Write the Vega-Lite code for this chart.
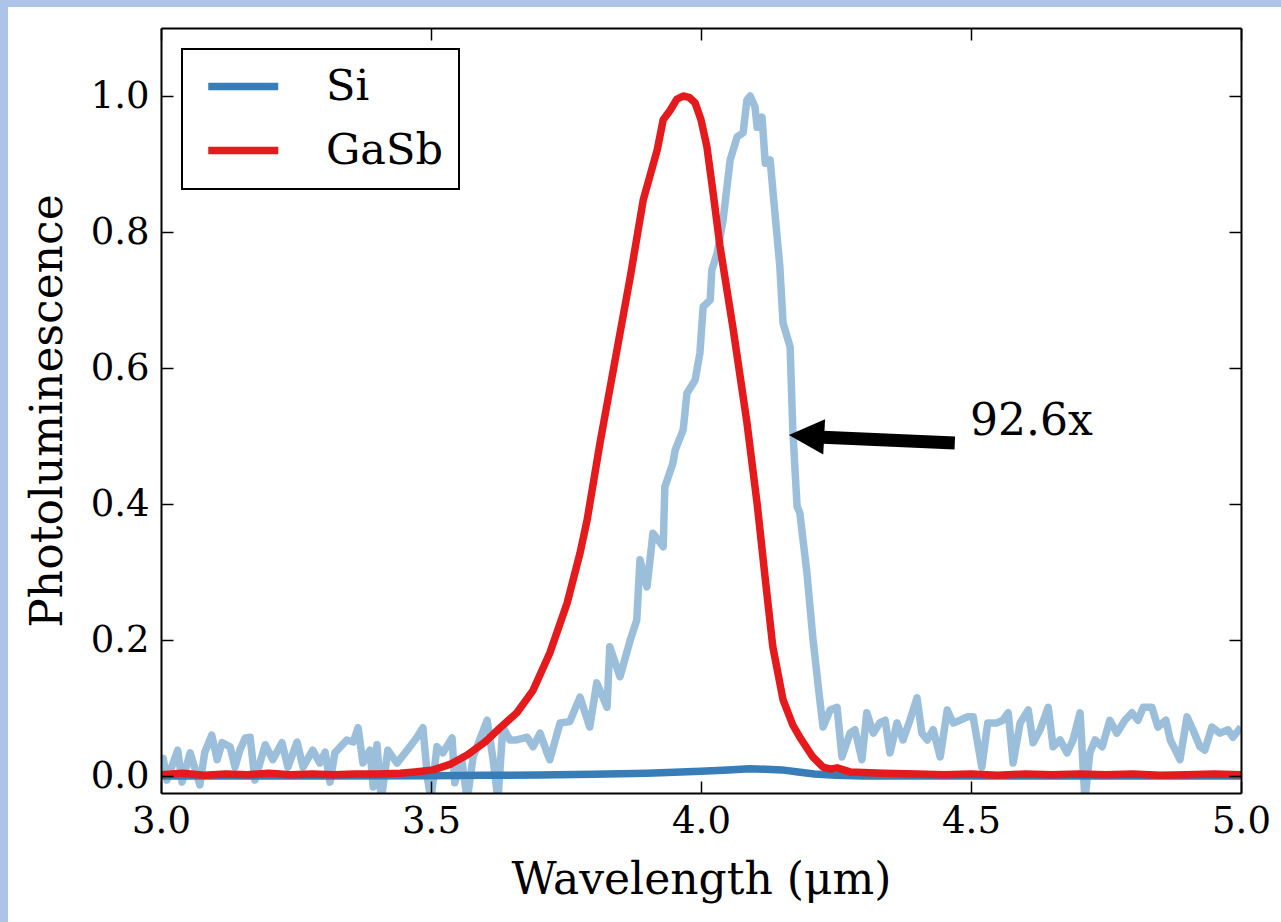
{
  "$schema": "https://vega.github.io/schema/vega-lite/v6.json",
  "width": 1080,
  "height": 765,
  "autosize": "none",
  "padding": {"left": 161, "top": 28, "right": 40, "bottom": 129},
  "background": "#aec3e8",
  "config": {
    "view": {"stroke": null},
    "font": "DejaVu Serif",
    "axis": {
      "zindex": 1, "grid": false,
      "domainColor": "black", "domainWidth": 2,
      "tickColor": "black", "tickWidth": 1.5, "tickSize": -12,
      "labelFont": "DejaVu Serif", "labelFontSize": 37, "labelColor": "black",
      "titleFont": "DejaVu Serif", "titleFontSize": 44, "titleFontWeight": "normal", "titleColor": "black",
      "labelFlush": false, "labelOverlap": false
    },
    "legend": {
      "orient": "top-left", "offset": 21,
      "strokeColor": "black", "strokeWidth": 2, "fillColor": "white", "padding": 16, "cornerRadius": 0,
      "symbolType": "M -0.643 0 L 3.357 0", "symbolSize": 1225, "symbolStrokeWidth": 7.5,
      "labelFont": "DejaVu Serif", "labelFontSize": 43, "labelColor": "black",
      "labelOffset": 85, "rowPadding": 20, "labelLimit": 400
    }
  },
  "datasets": {
    "scaled": [
      {"w":3.000,"pl":0.020},{"w":3.004,"pl":0.026},{"w":3.011,"pl":-0.006},{"w":3.031,"pl":0.038},{"w":3.039,"pl":-0.009},
      {"w":3.054,"pl":0.034},{"w":3.072,"pl":-0.013},{"w":3.081,"pl":0.035},{"w":3.094,"pl":0.060},{"w":3.104,"pl":0.024},
      {"w":3.113,"pl":0.049},{"w":3.128,"pl":0.043},{"w":3.137,"pl":0.013},{"w":3.146,"pl":0.038},{"w":3.156,"pl":0.056},
      {"w":3.165,"pl":0.057},{"w":3.174,"pl":-0.006},{"w":3.193,"pl":0.046},{"w":3.207,"pl":0.024},{"w":3.224,"pl":0.049},
      {"w":3.235,"pl":0.013},{"w":3.252,"pl":0.050},{"w":3.263,"pl":0.013},{"w":3.281,"pl":0.038},{"w":3.294,"pl":0.019},
      {"w":3.304,"pl":0.035},{"w":3.313,"pl":-0.009},{"w":3.322,"pl":0.034},{"w":3.344,"pl":0.053},{"w":3.356,"pl":0.050},
      {"w":3.365,"pl":0.071},{"w":3.374,"pl":0.019},{"w":3.387,"pl":0.038},{"w":3.393,"pl":-0.016},{"w":3.400,"pl":0.046},
      {"w":3.408,"pl":-0.035},{"w":3.420,"pl":0.038},{"w":3.437,"pl":0.019},{"w":3.456,"pl":0.038},{"w":3.474,"pl":0.057},
      {"w":3.485,"pl":0.071},{"w":3.494,"pl":-0.006},{"w":3.500,"pl":-0.035},{"w":3.511,"pl":0.043},{"w":3.522,"pl":0.034},
      {"w":3.539,"pl":0.056},{"w":3.544,"pl":-0.010},{"w":3.557,"pl":0.024},{"w":3.567,"pl":-0.035},{"w":3.578,"pl":0.028},
      {"w":3.604,"pl":0.082},{"w":3.615,"pl":0.024},{"w":3.624,"pl":-0.035},{"w":3.633,"pl":0.072},{"w":3.646,"pl":0.053},
      {"w":3.659,"pl":0.053},{"w":3.678,"pl":0.057},{"w":3.689,"pl":0.043},{"w":3.702,"pl":0.063},{"w":3.715,"pl":0.034},
      {"w":3.720,"pl":0.024},{"w":3.739,"pl":0.078},{"w":3.757,"pl":0.080},{"w":3.776,"pl":0.116},{"w":3.794,"pl":0.072},
      {"w":3.807,"pl":0.137},{"w":3.826,"pl":0.101},{"w":3.831,"pl":0.190},{"w":3.850,"pl":0.146},{"w":3.869,"pl":0.200},
      {"w":3.881,"pl":0.229},{"w":3.887,"pl":0.318},{"w":3.900,"pl":0.278},{"w":3.911,"pl":0.357},{"w":3.930,"pl":0.337},
      {"w":3.933,"pl":0.425},{"w":3.948,"pl":0.460},{"w":3.952,"pl":0.479},{"w":3.967,"pl":0.509},{"w":3.974,"pl":0.563},
      {"w":3.989,"pl":0.582},{"w":3.998,"pl":0.622},{"w":4.004,"pl":0.690},{"w":4.017,"pl":0.700},{"w":4.020,"pl":0.744},
      {"w":4.030,"pl":0.769},{"w":4.041,"pl":0.818},{"w":4.054,"pl":0.906},{"w":4.067,"pl":0.940},{"w":4.078,"pl":0.946},
      {"w":4.085,"pl":0.994},{"w":4.091,"pl":1.000},{"w":4.100,"pl":0.984},{"w":4.104,"pl":0.954},{"w":4.113,"pl":0.969},
      {"w":4.119,"pl":0.901},{"w":4.128,"pl":0.906},{"w":4.133,"pl":0.862},{"w":4.146,"pl":0.749},{"w":4.152,"pl":0.666},
      {"w":4.165,"pl":0.631},{"w":4.170,"pl":0.509},{"w":4.178,"pl":0.396},{"w":4.183,"pl":0.387},{"w":4.196,"pl":0.300},
      {"w":4.207,"pl":0.204},{"w":4.220,"pl":0.112},{"w":4.226,"pl":0.072},{"w":4.239,"pl":0.097},{"w":4.252,"pl":0.101},
      {"w":4.261,"pl":0.028},{"w":4.276,"pl":0.063},{"w":4.285,"pl":0.068},{"w":4.298,"pl":0.024},{"w":4.307,"pl":0.093},
      {"w":4.319,"pl":0.063},{"w":4.331,"pl":0.078},{"w":4.341,"pl":0.082},{"w":4.350,"pl":0.034},{"w":4.363,"pl":0.078},
      {"w":4.374,"pl":0.053},{"w":4.387,"pl":0.082},{"w":4.400,"pl":0.115},{"w":4.409,"pl":0.063},{"w":4.419,"pl":0.053},
      {"w":4.430,"pl":0.068},{"w":4.443,"pl":0.028},{"w":4.456,"pl":0.097},{"w":4.467,"pl":0.078},{"w":4.480,"pl":0.082},
      {"w":4.493,"pl":0.087},{"w":4.504,"pl":0.087},{"w":4.520,"pl":0.013},{"w":4.531,"pl":0.078},{"w":4.548,"pl":0.078},
      {"w":4.559,"pl":0.082},{"w":4.569,"pl":0.093},{"w":4.578,"pl":0.019},{"w":4.591,"pl":0.078},{"w":4.606,"pl":0.097},
      {"w":4.615,"pl":0.049},{"w":4.628,"pl":0.068},{"w":4.643,"pl":0.101},{"w":4.652,"pl":0.043},{"w":4.665,"pl":0.053},
      {"w":4.678,"pl":0.034},{"w":4.689,"pl":0.053},{"w":4.702,"pl":0.093},{"w":4.711,"pl":-0.035},{"w":4.720,"pl":0.034},
      {"w":4.730,"pl":0.053},{"w":4.743,"pl":0.043},{"w":4.757,"pl":0.082},{"w":4.770,"pl":0.063},{"w":4.785,"pl":0.082},
      {"w":4.798,"pl":0.093},{"w":4.809,"pl":0.082},{"w":4.819,"pl":0.101},{"w":4.835,"pl":0.101},{"w":4.846,"pl":0.072},
      {"w":4.861,"pl":0.082},{"w":4.869,"pl":0.053},{"w":4.881,"pl":0.034},{"w":4.887,"pl":0.024},{"w":4.900,"pl":0.087},
      {"w":4.911,"pl":0.068},{"w":4.924,"pl":0.043},{"w":4.933,"pl":0.038},{"w":4.946,"pl":0.072},{"w":4.961,"pl":0.063},
      {"w":4.976,"pl":0.068},{"w":4.985,"pl":0.057},{"w":5.000,"pl":0.072}
    ],
    "si": [
      {"w":3.000,"pl":0.000,"series":"Si"},{"w":3.300,"pl":0.000,"series":"Si"},{"w":3.500,"pl":0.0005,"series":"Si"},
      {"w":3.600,"pl":0.001,"series":"Si"},{"w":3.700,"pl":0.0015,"series":"Si"},{"w":3.800,"pl":0.0025,"series":"Si"},
      {"w":3.900,"pl":0.004,"series":"Si"},{"w":3.950,"pl":0.0055,"series":"Si"},{"w":4.000,"pl":0.007,"series":"Si"},
      {"w":4.050,"pl":0.009,"series":"Si"},{"w":4.090,"pl":0.0105,"series":"Si"},{"w":4.120,"pl":0.010,"series":"Si"},
      {"w":4.150,"pl":0.009,"series":"Si"},{"w":4.180,"pl":0.006,"series":"Si"},{"w":4.210,"pl":0.003,"series":"Si"},
      {"w":4.250,"pl":0.001,"series":"Si"},{"w":4.300,"pl":0.000,"series":"Si"},{"w":5.000,"pl":0.000,"series":"Si"}
    ],
    "gasb": [
      {"w":3.000,"pl":0.002,"series":"GaSb"},{"w":3.040,"pl":0.004,"series":"GaSb"},{"w":3.080,"pl":0.001,"series":"GaSb"},
      {"w":3.120,"pl":0.003,"series":"GaSb"},{"w":3.160,"pl":0.002,"series":"GaSb"},{"w":3.200,"pl":0.004,"series":"GaSb"},
      {"w":3.240,"pl":0.002,"series":"GaSb"},{"w":3.280,"pl":0.003,"series":"GaSb"},{"w":3.320,"pl":0.002,"series":"GaSb"},
      {"w":3.360,"pl":0.003,"series":"GaSb"},{"w":3.400,"pl":0.003,"series":"GaSb"},{"w":3.443,"pl":0.004,"series":"GaSb"},
      {"w":3.470,"pl":0.006,"series":"GaSb"},{"w":3.504,"pl":0.009,"series":"GaSb"},{"w":3.535,"pl":0.017,"series":"GaSb"},
      {"w":3.567,"pl":0.031,"series":"GaSb"},{"w":3.600,"pl":0.050,"series":"GaSb"},{"w":3.628,"pl":0.071,"series":"GaSb"},
      {"w":3.659,"pl":0.093,"series":"GaSb"},{"w":3.689,"pl":0.126,"series":"GaSb"},{"w":3.720,"pl":0.181,"series":"GaSb"},
      {"w":3.752,"pl":0.254,"series":"GaSb"},{"w":3.776,"pl":0.328,"series":"GaSb"},{"w":3.789,"pl":0.376,"series":"GaSb"},
      {"w":3.813,"pl":0.490,"series":"GaSb"},{"w":3.841,"pl":0.612,"series":"GaSb"},{"w":3.869,"pl":0.734,"series":"GaSb"},
      {"w":3.893,"pl":0.847,"series":"GaSb"},{"w":3.919,"pl":0.921,"series":"GaSb"},{"w":3.930,"pl":0.965,"series":"GaSb"},
      {"w":3.943,"pl":0.979,"series":"GaSb"},{"w":3.955,"pl":0.995,"series":"GaSb"},{"w":3.967,"pl":1.000,"series":"GaSb"},
      {"w":3.978,"pl":0.998,"series":"GaSb"},{"w":3.989,"pl":0.990,"series":"GaSb"},{"w":4.000,"pl":0.965,"series":"GaSb"},
      {"w":4.011,"pl":0.925,"series":"GaSb"},{"w":4.022,"pl":0.860,"series":"GaSb"},{"w":4.035,"pl":0.780,"series":"GaSb"},
      {"w":4.059,"pl":0.660,"series":"GaSb"},{"w":4.085,"pl":0.520,"series":"GaSb"},{"w":4.104,"pl":0.400,"series":"GaSb"},
      {"w":4.119,"pl":0.290,"series":"GaSb"},{"w":4.133,"pl":0.190,"series":"GaSb"},{"w":4.152,"pl":0.112,"series":"GaSb"},
      {"w":4.170,"pl":0.075,"series":"GaSb"},{"w":4.183,"pl":0.057,"series":"GaSb"},{"w":4.207,"pl":0.028,"series":"GaSb"},
      {"w":4.226,"pl":0.013,"series":"GaSb"},{"w":4.240,"pl":0.010,"series":"GaSb"},{"w":4.252,"pl":0.012,"series":"GaSb"},
      {"w":4.276,"pl":0.006,"series":"GaSb"},{"w":4.337,"pl":0.004,"series":"GaSb"},{"w":4.400,"pl":0.003,"series":"GaSb"},
      {"w":4.450,"pl":0.002,"series":"GaSb"},{"w":4.500,"pl":0.003,"series":"GaSb"},{"w":4.550,"pl":0.001,"series":"GaSb"},
      {"w":4.600,"pl":0.003,"series":"GaSb"},{"w":4.650,"pl":0.002,"series":"GaSb"},{"w":4.700,"pl":0.003,"series":"GaSb"},
      {"w":4.750,"pl":0.002,"series":"GaSb"},{"w":4.800,"pl":0.003,"series":"GaSb"},{"w":4.850,"pl":0.001,"series":"GaSb"},
      {"w":4.900,"pl":0.002,"series":"GaSb"},{"w":4.950,"pl":0.003,"series":"GaSb"},{"w":5.000,"pl":0.002,"series":"GaSb"}
    ]
  },
  "resolve": {"axis": {"x": "independent", "y": "independent"}},
  "layer": [
    {
      "data": {"values": [{}]},
      "mark": {"type": "rect", "color": "white", "clip": false},
      "encoding": {
        "x": {"datum": 2.7167, "type": "quantitative", "scale": {"domain": [3, 5], "nice": false, "zero": false}, "axis": null},
        "x2": {"datum": 5.2},
        "y": {"datum": 1.1309, "type": "quantitative", "scale": {"domain": [-0.025, 1.1], "nice": false, "zero": false}, "axis": null},
        "y2": {"datum": -0.25}
      }
    },
    {
      "data": {"name": "scaled"},
      "mark": {"type": "line", "color": "#377eb8", "opacity": 0.5, "strokeWidth": 7.5, "clip": true, "strokeJoin": "round"},
      "encoding": {
        "x": {"field": "w", "type": "quantitative", "scale": {"domain": [3, 5], "nice": false, "zero": false},
              "axis": {"orient": "bottom", "zindex": 2, "values": [3, 3.5, 4, 4.5, 5], "format": ".1f", "title": "Wavelength (μm)", "labelPadding": 22, "titlePadding": 19}},
        "y": {"field": "pl", "type": "quantitative", "scale": {"domain": [-0.025, 1.1], "nice": false, "zero": false},
              "axis": {"orient": "left", "zindex": 2, "values": [0, 0.2, 0.4, 0.6, 0.8, 1.0], "format": ".1f", "title": "Photoluminescence", "labelPadding": 24, "titlePadding": 20}}
      }
    },
    {
      "data": {"name": "si"},
      "mark": {"type": "line", "strokeWidth": 7.5, "clip": true},
      "encoding": {
        "x": {"field": "w", "type": "quantitative", "scale": {"domain": [3, 5], "nice": false, "zero": false},
              "axis": {"orient": "top", "zindex": 2, "values": [3, 3.5, 4, 4.5, 5], "labels": false, "title": null}},
        "y": {"field": "pl", "type": "quantitative", "scale": {"domain": [-0.025, 1.1], "nice": false, "zero": false},
              "axis": {"orient": "right", "zindex": 2, "values": [0, 0.2, 0.4, 0.6, 0.8, 1.0], "labels": false, "title": null}},
        "color": {"field": "series", "type": "nominal", "scale": {"domain": ["Si", "GaSb"], "range": ["#377eb8", "#e41a1c"]}, "legend": {"title": null}}
      }
    },
    {
      "data": {"name": "gasb"},
      "mark": {"type": "line", "strokeWidth": 7.5, "clip": true, "strokeJoin": "round"},
      "encoding": {
        "x": {"field": "w", "type": "quantitative", "scale": {"domain": [3, 5], "nice": false, "zero": false}, "axis": null},
        "y": {"field": "pl", "type": "quantitative", "scale": {"domain": [-0.025, 1.1], "nice": false, "zero": false}, "axis": null},
        "color": {"field": "series", "type": "nominal", "scale": {"domain": ["Si", "GaSb"], "range": ["#377eb8", "#e41a1c"]}, "legend": {"title": null}}
      }
    },
    {
      "data": {"values": [{}]},
      "mark": {"type": "rule", "color": "black", "strokeWidth": 13, "strokeCap": "butt"},
      "encoding": {
        "x": {"datum": 4.470, "type": "quantitative", "axis": null},
        "y": {"datum": 0.4897, "type": "quantitative", "axis": null},
        "x2": {"datum": 4.205},
        "y2": {"datum": 0.499}
      }
    },
    {
      "data": {"values": [{}]},
      "mark": {"type": "point", "shape": "M -1 0 L 1 -1 L 1 1 Z", "filled": true, "color": "black", "opacity": 1, "size": 1250, "angle": 3},
      "encoding": {
        "x": {"datum": 4.1954, "type": "quantitative", "axis": null},
        "y": {"datum": 0.5, "type": "quantitative", "axis": null}
      }
    },
    {
      "data": {"values": [{}]},
      "mark": {"type": "text", "text": "92.6x", "align": "left", "baseline": "alphabetic", "font": "DejaVu Serif", "fontSize": 44, "color": "black"},
      "encoding": {
        "x": {"datum": 4.498, "type": "quantitative", "axis": null},
        "y": {"datum": 0.5015, "type": "quantitative", "axis": null}
      }
    }
  ]
}
